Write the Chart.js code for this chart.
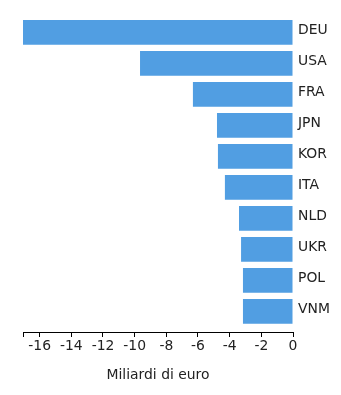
<!DOCTYPE html>
<html>
<head>
<meta charset="utf-8">
<script src="https://cdn.jsdelivr.net/npm/chart.js@4"></script>
<style>
  html, body { margin: 0; padding: 0; background: #fff; }
  #wrap { width: 341px; height: 395px; }
</style>
</head>
<body>
<div id="wrap"><canvas id="chart"></canvas></div>
<script>
// Paesi (dall'alto in basso) e saldo in miliardi di euro
const countries = ['DEU', 'USA', 'FRA', 'JPN', 'KOR', 'ITA', 'NLD', 'UKR', 'POL', 'VNM'];
const values = [-17.05, -9.66, -6.32, -4.80, -4.74, -4.30, -3.41, -3.28, -3.16, -3.16];
const xTicks = [-16, -14, -12, -10, -8, -6, -4, -2, 0];
const xTitle = 'Miliardi di euro';

const xMin = Math.min(...values);
const textColor = '#222';
const font = { family: 'DejaVu Sans', size: 13.9 };

new Chart(document.getElementById('chart'), {
  type: 'bar',
  data: {
    datasets: [{
      data: values.map((v, i) => ({ x: v, y: i })),
      backgroundColor: '#519ee2',
      borderWidth: 0,
      barPercentage: 0.8,
      categoryPercentage: 1,
    }]
  },
  options: {
    indexAxis: 'y',
    responsive: true,
    maintainAspectRatio: false,
    animation: false,
    layout: { padding: { left: 23, top: 5, right: 0, bottom: 0 } },
    plugins: { legend: { display: false }, tooltip: { enabled: false } },
    scales: {
      x: {
        type: 'linear',
        min: xMin,
        max: 0,
        afterBuildTicks: (s) => { s.ticks = [{ value: xMin }].concat(xTicks.map(v => ({ value: v }))); },
        afterFit: (s) => { s.height = 63; s.paddingLeft = 0; s.paddingRight = 0; },
        ticks: {
          autoSkip: false,
          maxRotation: 0,
          padding: 1.5,
          color: textColor,
          font: font,
          callback: (v) => (xTicks.includes(v) ? String(v) : ''),
        },
        grid: { drawOnChartArea: false, drawTicks: true, tickLength: 5, color: '#000' },
        border: { display: true, color: '#000', width: 1 },
        title: { display: true, text: xTitle, color: textColor, font: font, padding: { top: 0, bottom: 11.7 } },
      },
      y: {
        type: 'linear',
        position: 'right',
        reverse: true,
        offset: false,
        min: -0.88,
        max: 9.668,
        afterBuildTicks: (s) => { s.ticks = countries.map((c, i) => ({ value: i })); },
        afterFit: (s) => { s.width = 48; s.paddingTop = 0; s.paddingBottom = 0; },
        ticks: {
          autoSkip: false,
          padding: 5,
          labelOffset: -2,
          color: textColor,
          font: font,
          callback: (v) => countries[v] || '',
        },
        grid: { display: false, drawTicks: false },
        border: { display: false },
      },
    },
  },
});
</script>
</body>
</html>
